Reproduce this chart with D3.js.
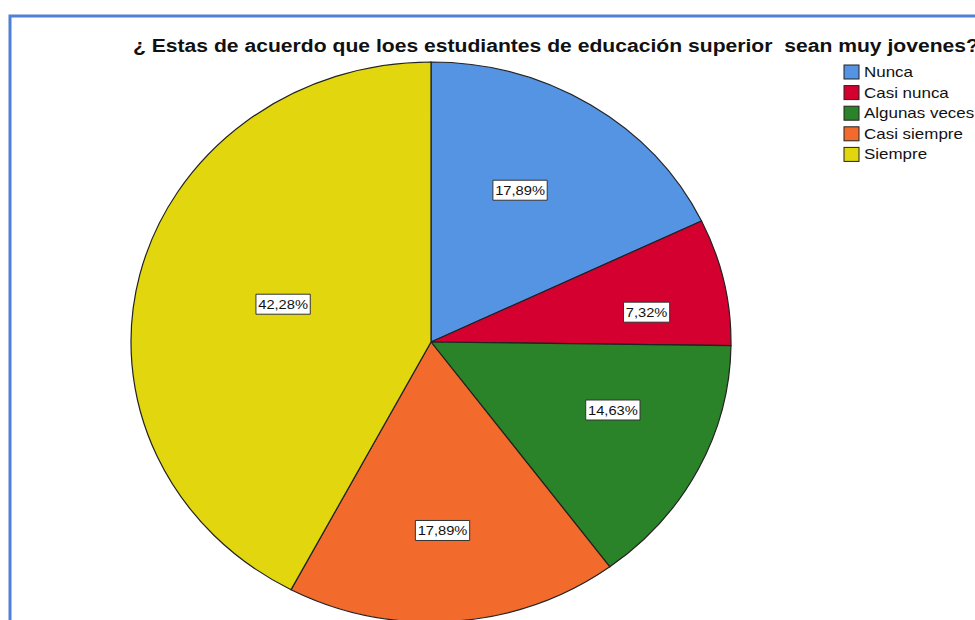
<!DOCTYPE html>
<meta charset="utf-8">
<style>
body { margin:0; background:#fff; }
text { font-family: "Liberation Sans", Arial, sans-serif; }
.slice { stroke:#222; stroke-width:1.2; vector-effect:non-scaling-stroke; }
</style>
<body>
<div id="chart"></div>
<script src="https://d3js.org/d3.v7.min.js"></script>
<script>
var width = 975, height = 620;

var categories = ["Nunca", "Casi nunca", "Algunas veces", "Casi siempre", "Siempre"];
var percents = [17.89, 7.32, 14.63, 17.89, 42.28];
var colors = ["#5593e3", "#d4002f", "#2a8229", "#f26b2c", "#e2d70f"];
var title = "¿ Estas de acuerdo que loes estudiantes de educación superior  sean muy jovenes?";

var cx = 431, cy = 342, rx = 300, ry = 280;
var stretch = 1.13; // the source picture is a bit wider than tall

var svg = d3.select("#chart").append("svg")
    .attr("width", width)
    .attr("height", height);

// frame
svg.append("rect")
    .attr("x", 10).attr("y", 16)
    .attr("width", width + 20).attr("height", height + 20)
    .attr("fill", "none")
    .attr("stroke", "#4f7fd6")
    .attr("stroke-width", 3);

var pie = d3.pie().sort(null).value(function(d) { return d; });
var arcs = pie(percents);

var arc = d3.arc().innerRadius(0).outerRadius(rx);

var g = svg.append("g")
    .attr("transform", "translate(" + cx + "," + cy + ") scale(1," + (ry / rx) + ")");

g.selectAll("path")
  .data(arcs)
  .enter().append("path")
    .attr("class", "slice")
    .attr("d", arc)
    .attr("fill", function(d, i) { return colors[i]; });

// labels near the centroid of each sector, squashed like the pie
var fmt = function(v) { return v.toFixed(2).replace(".", ",") + "%"; };
var shift = [[-12, -2], [22, 10], [10, -14], [-3, 12], [-6, -5]];

var labels = svg.append("g");
arcs.forEach(function(d, i) {
  var half = (d.endAngle - d.startAngle) / 2;
  var mid = d.startAngle + half;
  var r = 2 * rx * Math.sin(half) / (3 * half);
  var x = cx + r * Math.sin(mid) + shift[i][0];
  var y = cy - r * Math.cos(mid) * ry / rx + shift[i][1];
  var lg = labels.append("g")
    .attr("transform", "translate(" + x + "," + y + ") scale(" + stretch + ",1)");
  var rect = lg.append("rect").attr("fill", "#fff").attr("stroke", "#333")
    .attr("stroke-width", 1).attr("vector-effect", "non-scaling-stroke");
  var t = lg.append("text")
    .attr("text-anchor", "middle")
    .attr("dy", "0.36em")
    .attr("font-size", 13)
    .attr("fill", "#111")
    .text(fmt(percents[i]));
  var bb = t.node().getBBox();
  rect.attr("x", bb.x - 2).attr("y", -10).attr("width", bb.width + 4).attr("height", 20);
});

// title
svg.append("text")
    .attr("x", 133)
    .attr("y", 52)
    .attr("font-size", 18)
    .attr("font-weight", "bold")
    .attr("fill", "#111")
    .attr("textLength", 846)
    .attr("lengthAdjust", "spacingAndGlyphs")
    .style("white-space", "pre")
    .text(title);

// legend
var legend = svg.append("g").attr("transform", "translate(844,65)");
var item = legend.selectAll("g")
  .data(categories)
  .enter().append("g")
    .attr("transform", function(d, i) { return "translate(0," + (i * 20.6) + ")"; });

item.append("rect")
    .attr("width", 15).attr("height", 14)
    .attr("fill", function(d, i) { return colors[i]; })
    .attr("stroke", "#222");

item.append("text")
    .attr("transform", "translate(20,12) scale(" + stretch + ",1)")
    .attr("font-size", 15)
    .attr("fill", "#111")
    .text(function(d) { return d; });
</script>
</body>
